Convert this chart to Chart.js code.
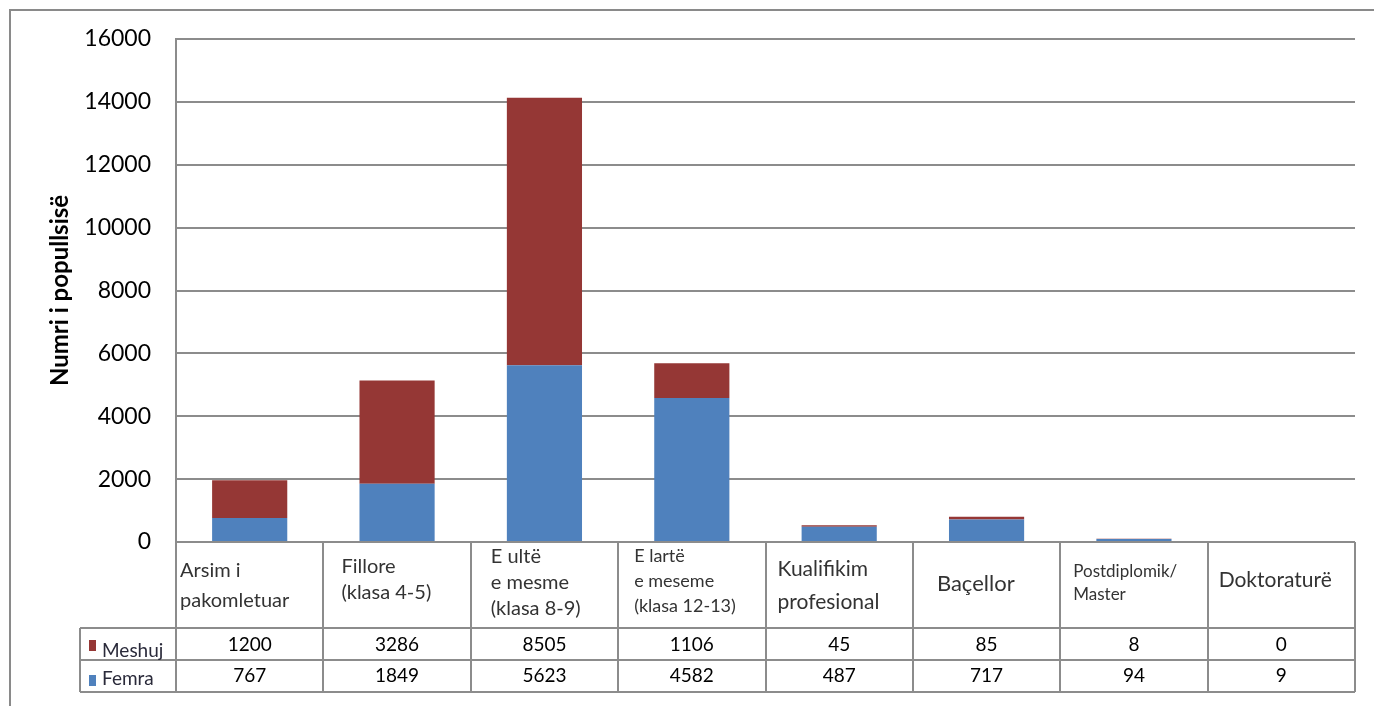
<!DOCTYPE html>
<html>
<head>
<meta charset="utf-8">
<script src="https://cdn.jsdelivr.net/npm/chart.js@4.4.0/dist/chart.umd.min.js"></script>
<style>
  html, body { margin: 0; padding: 0; background: #fff; }
  #wrap { width: 1374px; height: 706px; }
</style>
</head>
<body>
<div id="wrap"><canvas id="eduChart"></canvas></div>
<script>
// categories (multi-line labels as shown in the data table)
const categories = [
    ['Arsim i', 'pakomletuar'],
    ['Fillore', '(klasa 4-5)'],
    ['E ultë', 'e mesme', '(klasa 8-9)'],
    ['E lartë', 'e meseme', '(klasa 12-13)'],
    ['Kualifikim', 'profesional'],
    ['Baçellor'],
    ['Postdiplomik/', 'Master'],
    ['Doktoraturë']
];
const meshuj = [1200, 3286, 8505, 1106, 45, 85, 8, 0];
const femra = [767, 1849, 5623, 4582, 487, 717, 94, 9];
const yTicks = [0, 2000, 4000, 6000, 8000, 10000, 12000, 14000, 16000];

// look of the header cells (font size, first line y, line gap, x inset)
const headerStyle = [
    { size: 20, y: 571, gap: 30, dx: 4 },
    { size: 20, y: 567, gap: 26, dx: 18 },
    { size: 20, y: 557, gap: 26, dx: 20 },
    { size: 18, y: 556, gap: 25, dx: 16 },
    { size: 21, y: 569, gap: 33, dx: 12 },
    { size: 22, y: 584, gap: 0, dx: 24 },
    { size: 17, y: 572, gap: 23, dx: 13 },
    { size: 21, y: 580, gap: 0, dx: 11 }
];

const RED = '#953735';
const BLUE = '#4F81BD';
const LINE = '#8c8c8c';
const FONT = 'Lato, "Open Sans", sans-serif';

const tablePlugin = {
    id: 'dataTable',
    afterDraw(chart) {
        const c = chart.ctx;
        const x = chart.scales.x;
        const area = chart.chartArea;
        const w = (area.right - area.left) / categories.length;
        const top = area.bottom;
        const row1 = 628, row2 = 660, row3 = 692;
        const legL = 80;

        c.save();
        // outer frame
        c.strokeStyle = '#8a8a8a';
        c.lineWidth = 2;
        c.beginPath();
        c.moveTo(10, 706);
        c.lineTo(10, 10);
        c.lineTo(1374, 10);
        c.stroke();

        // table lines
        c.strokeStyle = LINE;
        c.lineWidth = 2;
        c.beginPath();
        for (let i = 0; i <= categories.length; i++) {
            const bx = Math.round(area.left + i * w);
            c.moveTo(bx, top);
            c.lineTo(bx, row3);
        }
        c.moveTo(legL, row1);
        c.lineTo(legL, row3);
        [row1, row2, row3].forEach(function (ry) {
            c.moveTo(legL, ry);
            c.lineTo(area.right, ry);
        });
        c.moveTo(area.left, top);
        c.lineTo(area.right, top);
        c.stroke();

        // header labels
        c.textBaseline = 'middle';
        c.textAlign = 'left';
        categories.forEach(function (lines, i) {
            const st = headerStyle[i];
            c.fillStyle = '#333333';
            c.font = st.size + 'px ' + FONT;
            lines.forEach(function (t, k) {
                c.fillText(t, area.left + i * w + st.dx, st.y + k * st.gap);
            });
        });

        // values
        c.fillStyle = '#000';
        c.font = '19px ' + FONT;
        c.textAlign = 'center';
        categories.forEach(function (_, i) {
            const cx = x.getPixelForValue(i);
            c.fillText(String(meshuj[i]), cx, (row1 + row2) / 2 + 1);
            c.fillText(String(femra[i]), cx, (row2 + row3) / 2);
        });

        // legend keys
        c.textAlign = 'left';
        c.fillStyle = RED;
        c.fillRect(89, 640, 7, 11);
        c.fillStyle = BLUE;
        c.fillRect(89, 675, 7, 11);
        c.fillStyle = '#2a2a3a';
        c.font = '19px ' + FONT;
        c.fillText('Meshuj', 102, 651);
        c.fillText('Femra', 102, 679);
        c.restore();
    }
};

new Chart(document.getElementById('eduChart'), {
    type: 'bar',
    data: {
        labels: categories.map(function (l) { return l.join(' '); }),
        datasets: [{
            label: 'Femra',
            data: femra,
            backgroundColor: BLUE,
            barPercentage: 0.51,
            categoryPercentage: 1
        }, {
            label: 'Meshuj',
            data: meshuj,
            backgroundColor: RED,
            barPercentage: 0.51,
            categoryPercentage: 1
        }]
    },
    options: {
        responsive: true,
        maintainAspectRatio: false,
        animation: false,
        layout: {
            padding: { top: 39, right: 19, bottom: 164, left: 0 }
        },
        plugins: {
            legend: { display: false },
            tooltip: { enabled: false }
        },
        scales: {
            x: {
                stacked: true,
                ticks: { display: false },
                grid: { display: false },
                border: { display: false },
                afterFit: function (scale) { scale.height = 0; }
            },
            y: {
                stacked: true,
                min: 0,
                max: 16000,
                afterBuildTicks: function (scale) {
                    scale.ticks = yTicks.map(function (v) { return { value: v }; });
                },
                afterFit: function (scale) { scale.width = 176; },
                ticks: {
                    color: '#000',
                    padding: 25,
                    font: { family: FONT, size: 23 },
                    callback: function (v) { return String(v); }
                },
                grid: {
                    color: LINE,
                    lineWidth: 2,
                    drawTicks: false
                },
                border: { color: LINE, width: 2 },
                title: {
                    display: true,
                    text: 'Numri i popullsisë',
                    color: '#000',
                    padding: { top: 46 },
                    font: { family: FONT, size: 24, weight: 'bold' }
                }
            }
        }
    },
    plugins: [tablePlugin]
});
</script>
</body>
</html>
